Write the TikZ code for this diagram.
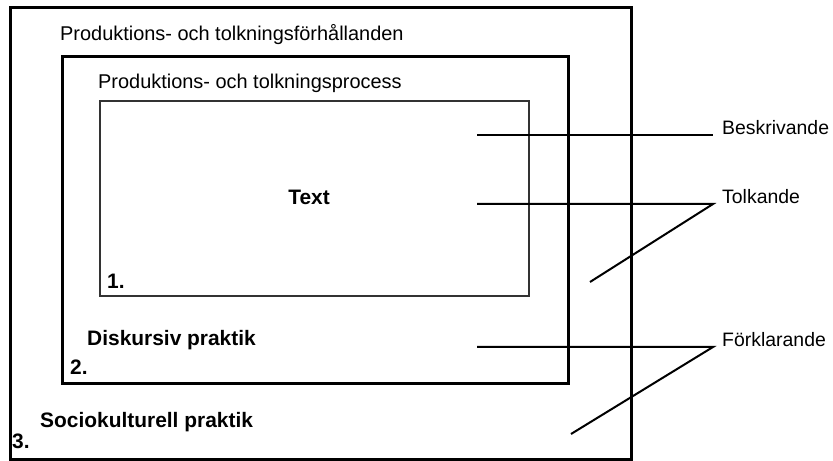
\documentclass[tikz,border=0pt]{standalone}
\usepackage{fontspec}
\setmainfont{Liberation Sans}
\begin{document}
\begin{tikzpicture}[x=1bp,y=-1bp,
  every node/.style={inner sep=0pt,anchor=base west,font=\fontsize{20}{24}\selectfont}
]

\tikzstyle{thickframe}=[line width=3bp]
\tikzstyle{thinframe}=[line width=1.6bp,black!80]
\tikzstyle{boldtext}=[font=\fontsize{21}{24}\selectfont\bfseries]
\tikzstyle{level}=[inner xsep=9bp,font=\fontsize{19.5}{24}\selectfont]
\tikzstyle{conn}=[line width=2bp]

\useasboundingbox (0,0) rectangle (833,461);

\draw[thickframe] (10,8) rectangle (631,459);
\draw[thickframe] (62,57) rectangle (568,383);
\draw[thinframe] (100,101) rectangle (529,296);

\node (f3) at (60,41) {Produktions- och tolkningsförhållanden};
\node (f2) at (98,89) {Produktions- och tolkningsprocess};
\node[boldtext,anchor=base] (text) at (309,205) {Text};
\node[boldtext] (n1) at (107,289) {1.};
\node[boldtext] (disk) at (87,346) {Diskursiv praktik};
\node[boldtext] (n2) at (70,375) {2.};
\node[boldtext] (soc) at (40,427) {Sociokulturell praktik};
\node[boldtext] (n3) at (12,448) {3.};

\node[level] (besk) at (713,135) {Beskrivande};
\node[level] (tolk) at (713,204) {Tolkande};
\node[level] (fork) at (713,347) {Förklarande};

\coordinate (b1) at (477,135);
\coordinate (t1) at (477,204);
\coordinate (t2) at (590,282);
\coordinate (k1) at (477,347);
\coordinate (k2) at (571,434);

\draw[conn] (b1) -- (besk.base west);
\draw[conn] (t1) -- (tolk.base west) -- (t2);
\draw[conn] (k1) -- (fork.base west) -- (k2);
\end{tikzpicture}
\end{document}
